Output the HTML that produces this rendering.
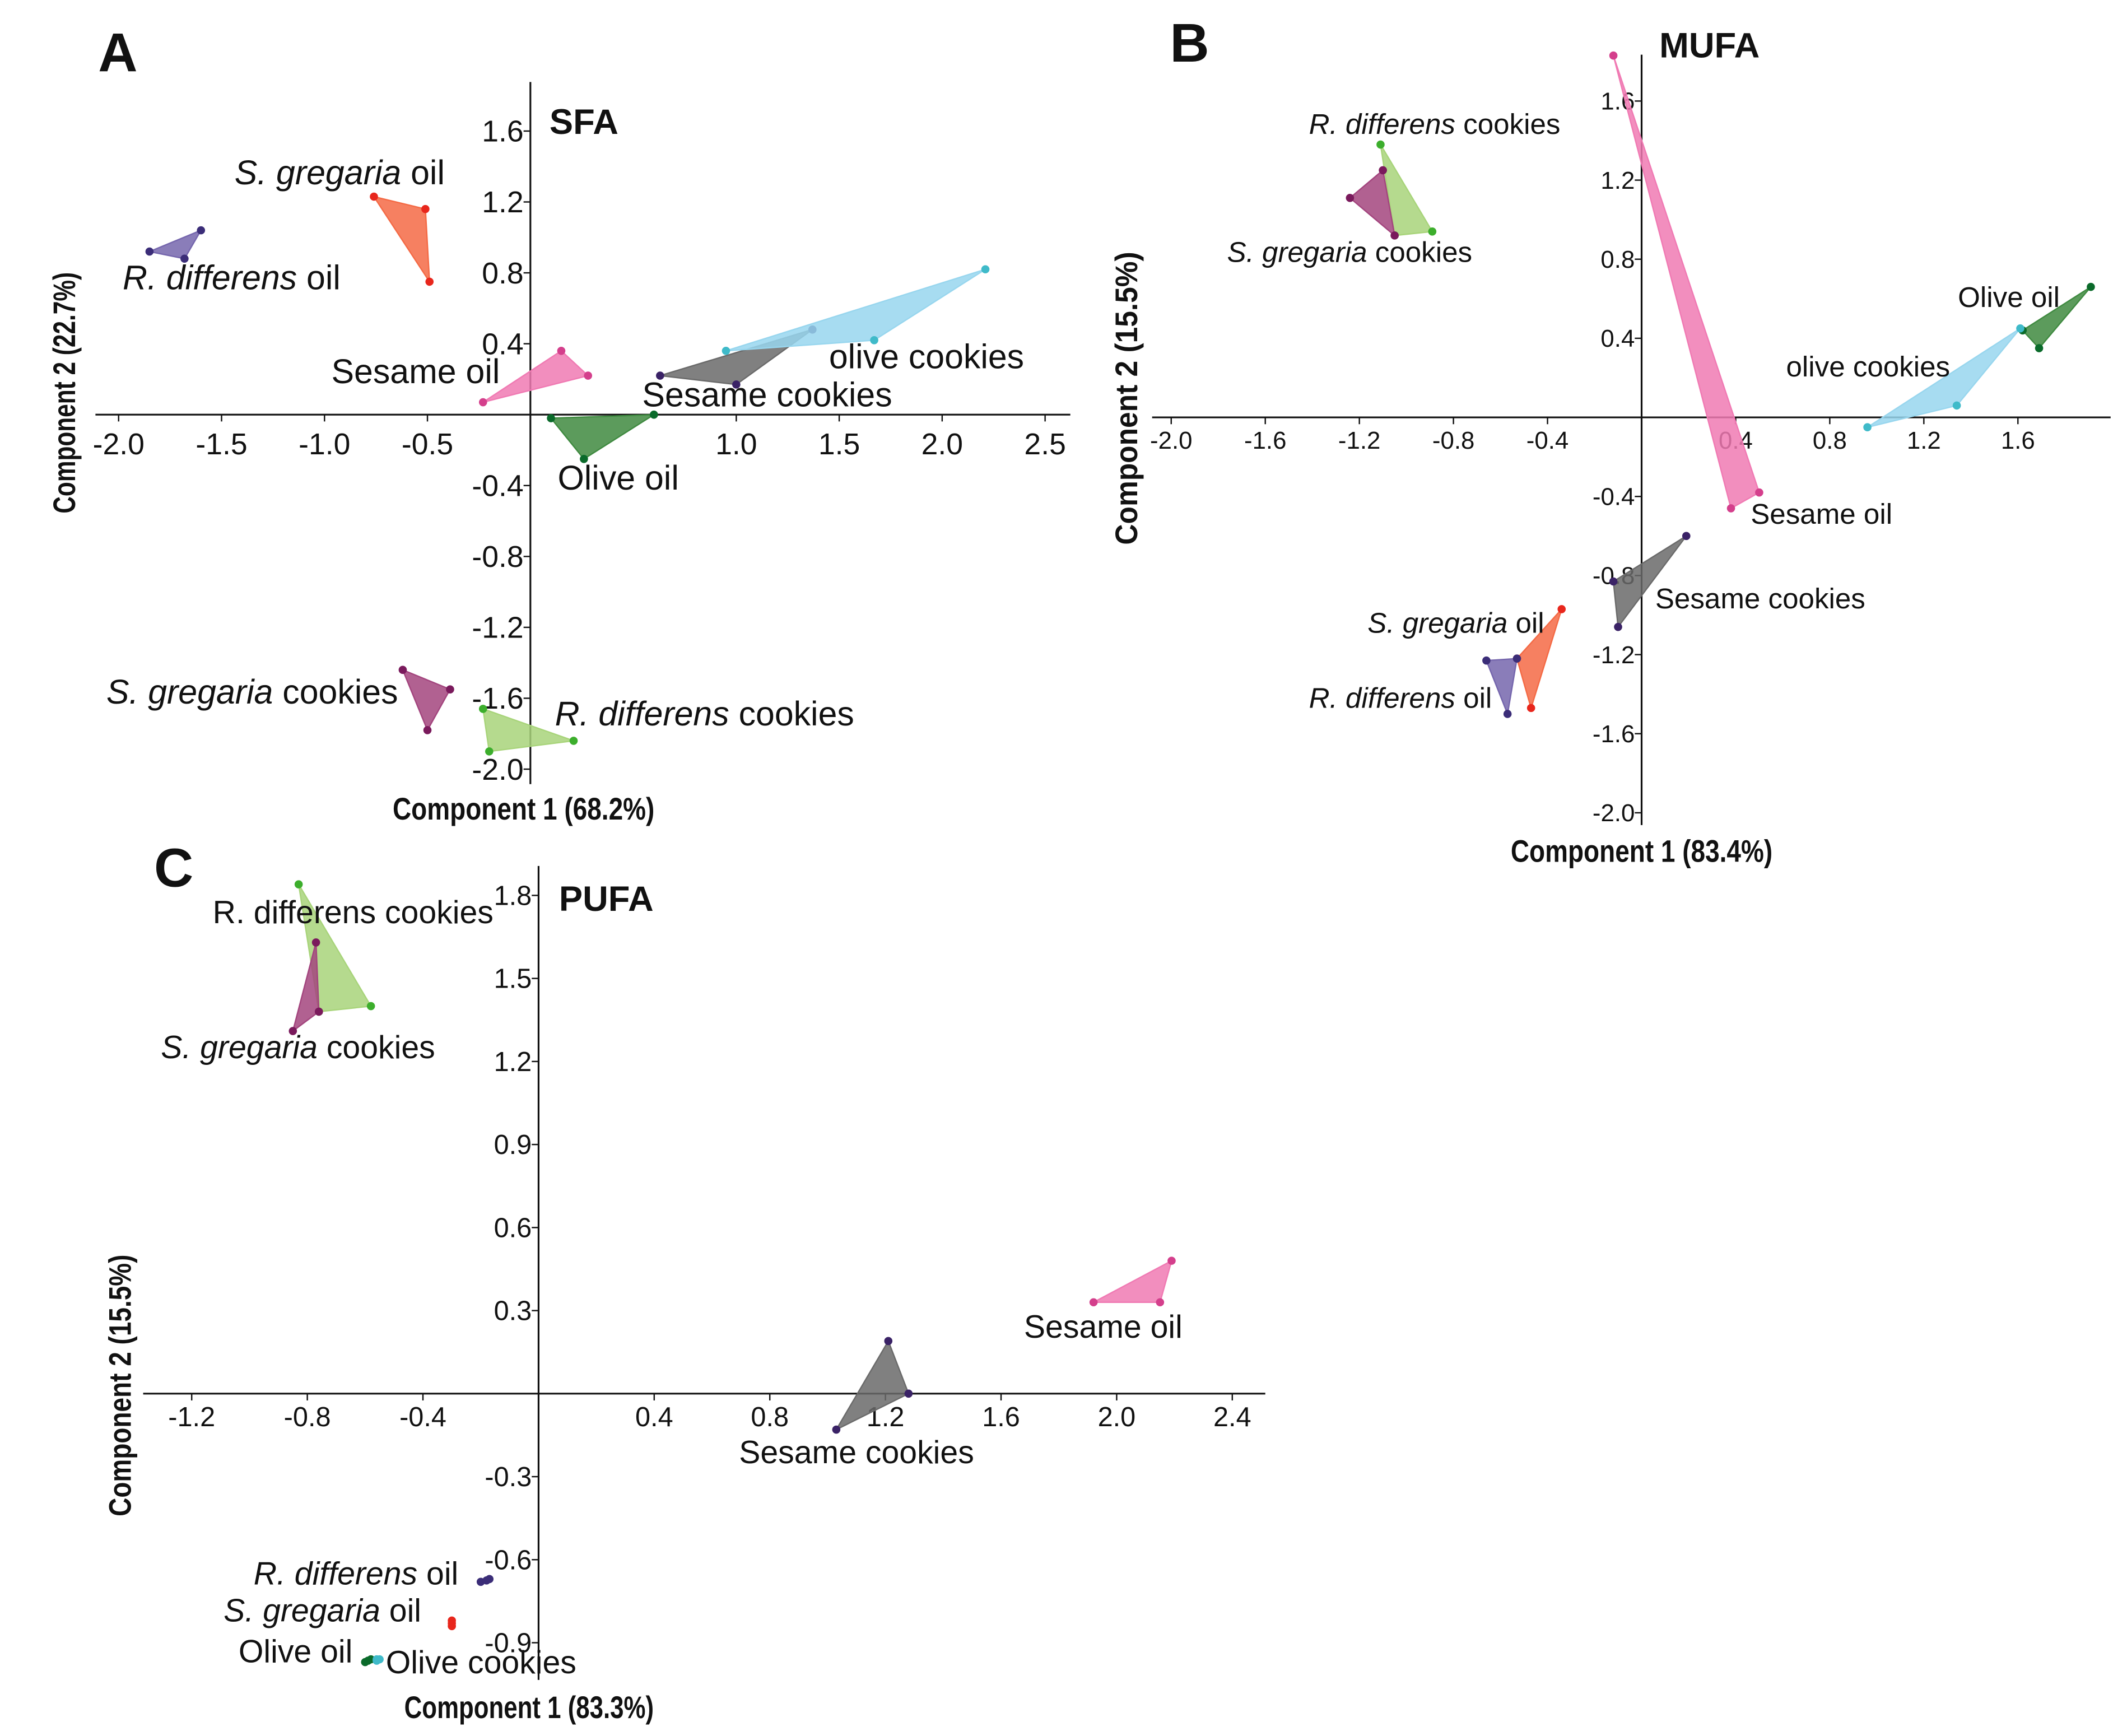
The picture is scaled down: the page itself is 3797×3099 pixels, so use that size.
<!DOCTYPE html>
<html><head><meta charset="utf-8"><style>
html,body{margin:0;padding:0;background:#fff;}
svg{display:block;font-family:"Liberation Sans",sans-serif;}
.tk{fill:#111;}
.lb{fill:#111;}
.at{font-size:23px;font-weight:bold;fill:#111;}
.pl{font-size:40px;font-weight:bold;fill:#111;}
.tt{font-size:26px;font-weight:bold;fill:#111;}
</style></head><body>
<svg id="chart" width="3797" height="3099" viewBox="0 0 1560 1273" xmlns="http://www.w3.org/2000/svg">
<g id="pA"></g>
<g id="pB"></g>
<g id="pC"></g>
</svg>
<script>
// ---------- Data ----------
const groupsA = ["S. gregaria oil","R. differens oil","Sesame oil","Olive oil","Sesame cookies","olive cookies","S. gregaria cookies","R. differens cookies"];
const xA = [[-0.76,-0.51,-0.49],[-1.85,-1.60,-1.68],[-0.23,0.15,0.28],[0.10,0.60,0.26],[0.63,1.37,1.0],[0.95,2.21,1.67],[-0.62,-0.39,-0.50],[-0.23,0.21,-0.20]];
const yA = [[1.23,1.16,0.75],[0.92,1.04,0.88],[0.07,0.36,0.22],[-0.02,0,-0.25],[0.22,0.48,0.17],[0.36,0.82,0.42],[-1.44,-1.55,-1.78],[-1.66,-1.84,-1.90]];
const xTicksA = [-2.0,-1.5,-1.0,-0.5,1.0,1.5,2.0,2.5];
const yTicksA = [1.6,1.2,0.8,0.4,-0.4,-0.8,-1.2,-1.6,-2.0];

const groupsB = ["Sesame oil","R. differens cookies","S. gregaria cookies","Olive oil","olive cookies","Sesame cookies","S. gregaria oil","R. differens oil"];
const xB = [[-0.12,0.50,0.38],[-1.11,-0.89,-1.05],[-1.24,-1.10,-1.05],[1.62,1.91,1.69],[0.96,1.61,1.34],[-0.12,0.19,-0.10],[-0.53,-0.34,-0.47],[-0.66,-0.53,-0.57]];
const yB = [[1.83,-0.38,-0.46],[1.38,0.94,0.92],[1.11,1.25,0.92],[0.44,0.66,0.35],[-0.05,0.45,0.06],[-0.83,-0.60,-1.06],[-1.22,-0.97,-1.47],[-1.23,-1.22,-1.50]];
const xTicksB = [-2.0,-1.6,-1.2,-0.8,-0.4,0.4,0.8,1.2,1.6];
const yTicksB = [1.6,1.2,0.8,0.4,-0.4,-0.8,-1.2,-1.6,-2.0];

const groupsC = ["R. differens cookies","S. gregaria cookies","Sesame oil","Sesame cookies","R. differens oil","S. gregaria oil","Olive oil","olive cookies"];
const xC = [[-0.83,-0.58,-0.76],[-0.77,-0.85,-0.76],[1.92,2.19,2.15],[1.03,1.21,1.28],[-0.20,-0.17,-0.18],[-0.30,-0.30,-0.30],[-0.60,-0.58,-0.59],[-0.56,-0.55,-0.56]];
const yC = [[1.84,1.40,1.38],[1.63,1.31,1.38],[0.33,0.48,0.33],[-0.13,0.19,0.0],[-0.68,-0.67,-0.675],[-0.82,-0.84,-0.83],[-0.97,-0.96,-0.965],[-0.96,-0.96,-0.965]];
const xTicksC = [-1.2,-0.8,-0.4,0.4,0.8,1.2,1.6,2.0,2.4];
const yTicksC = [1.8,1.5,1.2,0.9,0.6,0.3,-0.3,-0.6,-0.9];

const style = {
 "S. gregaria oil":["#f46a45","#e8261c"],
 "R. differens oil":["#7566ad","#3b2d78"],
 "Sesame oil":["#f07ab3","#d43f8c"],
 "Olive oil":["#3f8a40","#0a6a2a"],
 "Sesame cookies":["#6a6a6a","#3a2266"],
 "olive cookies":["#98d6ee","#3fbac9"],
 "S. gregaria cookies":["#a3457e","#7a1a5c"],
 "R. differens cookies":["#a8d47a","#3cae2c"]
};
const NS="http://www.w3.org/2000/svg";
function mk(p,t,a){const e=document.createElementNS(NS,t);for(const k in a)e.setAttribute(k,a[k]);p.appendChild(e);return e;}

function panel(g,cfg){
 const sx=v=>cfg.x0+v*cfg.kx, sy=v=>cfg.y0-v*cfg.ky;
 let e=mk(g,'line',{x1:cfg.xa[0],x2:cfg.xa[1],y1:cfg.y0,y2:cfg.y0,stroke:'#111','stroke-width':1.3});
 
 
 e=mk(g,'line',{x1:cfg.x0,x2:cfg.x0,y1:cfg.ya[0],y2:cfg.ya[1],stroke:'#111','stroke-width':1.3});
 
 
 cfg.xt.forEach(v=>{
  mk(g,'line',{x1:sx(v),x2:sx(v),y1:cfg.y0,y2:cfg.y0+5,stroke:'#111'});
  const t=mk(g,'text',{x:sx(v),y:cfg.y0+cfg.xtOff,'text-anchor':'middle',class:'tk'});
  t.style.fontSize=cfg.tfs+'px';
  t.textContent=v.toFixed(1);
  
  
 });
 cfg.yt.forEach(v=>{
  mk(g,'line',{x1:cfg.x0-5,x2:cfg.x0,y1:sy(v),y2:sy(v),stroke:'#111'});
  const t=mk(g,'text',{x:cfg.x0-5,y:sy(v)+cfg.tfs*0.35,'text-anchor':'end',class:'tk'});
  t.style.fontSize=cfg.tfs+'px';
  t.textContent=v.toFixed(1);
  
  
 });
 cfg.groups.forEach((n,i)=>{
  const c=style[n];
  const pts=cfg.xs[i].map((x,j)=>sx(x)+','+sy(cfg.ys[i][j])).join(' ');
  const p=mk(g,'polygon',{points:pts,fill:c[0],'fill-opacity':0.85,stroke:c[0],'stroke-width':1});
  
  
  cfg.xs[i].forEach((x,j)=>{
   const d=mk(g,'circle',{cx:sx(x),cy:sy(cfg.ys[i][j]),r:3,fill:c[1]});
   
   
  });
 });
}
function label(g,x,y,it,rest,fs,cls){
 const t=mk(g,'text',{x:x,y:y,class:cls||'lb'});
 if(fs)t.style.fontSize=fs+'px';
 if(it){const s=mk(t,'tspan',{'font-style':'italic'});s.textContent=it;}
 if(rest){const s=mk(t,'tspan',{});s.textContent=rest;}
 
 
 return t;
}
function atitle(g,x,y,txt,rot,len,name){
 const t=mk(g,'text',{x:x,y:y,class:'at','text-anchor':'middle',textLength:len,lengthAdjust:'spacingAndGlyphs',transform:rot?`rotate(-90 ${x} ${y})`:''});
 t.textContent=txt;
 
 
}
const A=document.getElementById('pA'),B=document.getElementById('pB'),C=document.getElementById('pC');
panel(A,{x0:389,y0:304,kx:151,ky:130,xa:[70,785],ya:[60,575],xt:xTicksA,yt:yTicksA,groups:groupsA,xs:xA,ys:yA,xtOff:29,tfs:22});
panel(B,{x0:1204,y0:306,kx:172.5,ky:145,xa:[845,1548],ya:[40,605],xt:xTicksB,yt:yTicksB,groups:groupsB,xs:xB,ys:yB,xtOff:23,tfs:18});
panel(C,{x0:395,y0:1022,kx:212,ky:203,xa:[105,928],ya:[635,1232],xt:xTicksC,yt:yTicksC,groups:groupsC,xs:xC,ys:yC,xtOff:24,tfs:20});

// Panel A labels
const fa=25;
label(A,72,52,null,'A',null,'pl');
label(A,403,98,null,'SFA',null,'tt');
label(A,172,135,'S. gregaria',' oil',fa);
label(A,90,212,'R. differens',' oil',fa);
label(A,243,281,null,'Sesame oil',fa);
label(A,608,270,null,'olive cookies',fa);
label(A,471,298,null,'Sesame cookies',fa);
label(A,409,359,null,'Olive oil',fa);
label(A,78,516,'S. gregaria',' cookies',fa);
label(A,407,532,'R. differens',' cookies',fa);
atitle(A,384,601,'Component 1 (68.2%)',false,192,'x-axis-title');
atitle(A,55,288,'Component  2 (22.7%)',true,177,'y-axis-title');
// Panel B
const fb=21;
label(B,858,45,null,'B',null,'pl');
label(B,1217,42,null,'MUFA',null,'tt');
label(B,960,98,'R. differens',' cookies',fb);
label(B,900,192,'S. gregaria',' cookies',fb);
label(B,1436,225,null,'Olive oil',fb);
label(B,1310,276,null,'olive cookies',fb);
label(B,1284,384,null,'Sesame oil',fb);
label(B,1214,446,null,'Sesame cookies',fb);
label(B,1003,464,'S. gregaria',' oil',fb);
label(B,960,519,'R. differens',' oil',fb);
atitle(B,1204,632,'Component 1 (83.4%)',false,192,'x-axis-title');
atitle(B,834,292,'Component  2 (15.5%)',true,215,'y-axis-title');
// Panel C
const fc=23.5;
label(C,113,650,null,'C',null,'pl');
label(C,410,668,null,'PUFA',null,'tt');
label(C,156,677,null,'R. differens cookies',fc);
label(C,118,776,'S. gregaria',' cookies',fc);
label(C,751,981,null,'Sesame oil',fc);
label(C,542,1073,null,'Sesame cookies',fc);
label(C,186,1162,'R. differens',' oil',fc);
label(C,164,1189,'S. gregaria',' oil',fc);
label(C,175,1219,null,'Olive oil',fc);
label(C,283,1227,null,'Olive cookies',fc);
atitle(C,388,1260,'Component 1 (83.3%)',false,183,'x-axis-title');
atitle(C,96,1016,'Component  2 (15.5%)',true,192,'y-axis-title');
</script>
</body></html>
